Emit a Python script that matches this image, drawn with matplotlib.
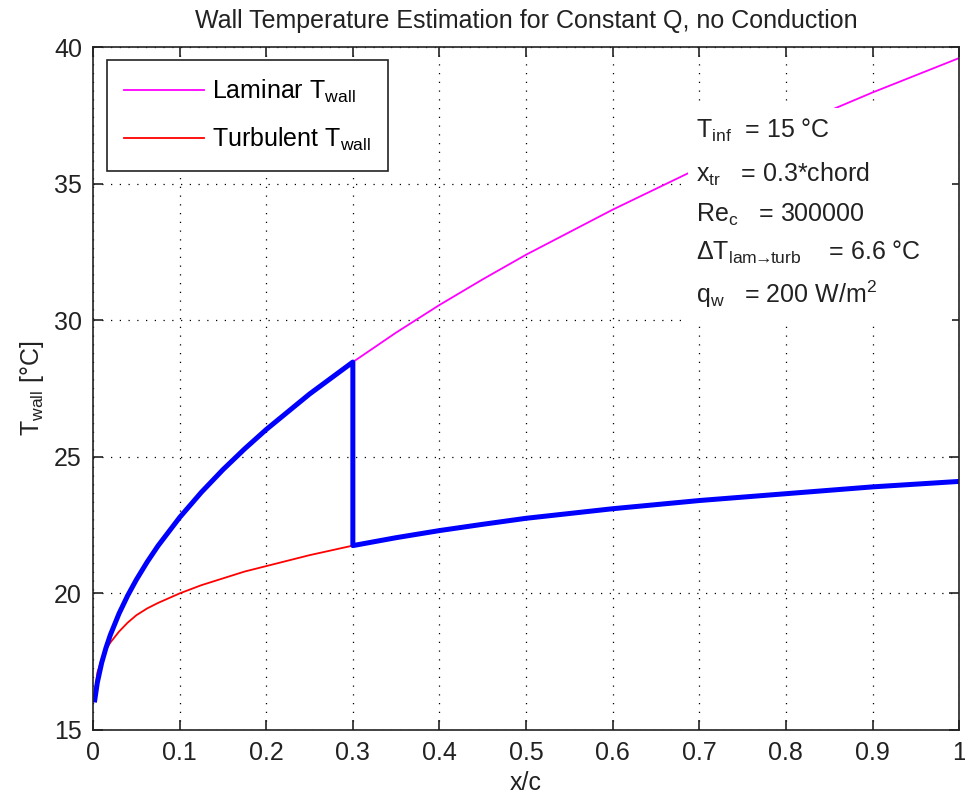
import matplotlib
matplotlib.use('Agg')
import matplotlib.pyplot as plt
from matplotlib.patches import Rectangle
import numpy as np

plt.rcParams['font.family'] = ['Liberation Sans', 'DejaVu Sans']
plt.rcParams['mathtext.fontset'] = 'custom'
plt.rcParams['mathtext.rm'] = 'Liberation Sans'
plt.rcParams['mathtext.it'] = 'Liberation Sans'
plt.rcParams['mathtext.default'] = 'regular'

# values
x_lam = [0.002, 0.005, 0.01, 0.015, 0.02, 0.03, 0.04, 0.05, 0.0625, 0.075, 0.1, 0.125,
         0.15, 0.175, 0.2, 0.25, 0.3, 0.35, 0.4, 0.45, 0.5, 0.6, 0.7, 0.8, 0.9, 1.0]
t_lam = [16.1, 16.74, 17.46, 18.01, 18.48, 19.26, 19.92, 20.5, 21.15, 21.74, 22.78, 23.7,
         24.53, 25.29, 26.0, 27.3, 28.47, 29.55, 30.56, 31.5, 32.4, 34.05, 35.58, 37.0,
         38.34, 39.6]
x_turb = [0.002, 0.005, 0.01, 0.015, 0.02, 0.03, 0.04, 0.05, 0.0625, 0.075, 0.1, 0.125,
          0.15, 0.175, 0.2, 0.25, 0.3, 0.35, 0.4, 0.45, 0.5, 0.6, 0.7, 0.8, 0.9, 1.0]
t_turb = [16.35, 17.1, 17.6, 17.95, 18.2, 18.6, 18.93, 19.2, 19.45, 19.65, 20.0, 20.3,
          20.55, 20.8, 21.0, 21.4, 21.75, 22.04, 22.3, 22.53, 22.75, 23.1, 23.4, 23.65,
          23.9, 24.1]
x_tr = 0.3

info_lines = [
    r'T$_{inf}$  = 15 °C',
    r'x$_{tr}$   = 0.3*chord',
    r'Re$_c$   = 300000',
    r'ΔT$_{lam\!\!\rightarrow\!\!turb}$    = 6.6 °C',
    r'q$_w$   = 200 W/m$^2$',
]

x_lam = np.array(x_lam)
t_lam = np.array(t_lam)
x_turb = np.array(x_turb)
t_turb = np.array(t_turb)

# combined wall temperature: laminar up to transition, then turbulent
x_comb = np.concatenate([x_lam[x_lam <= x_tr], x_turb[x_turb >= x_tr]])
t_comb = np.concatenate([t_lam[x_lam <= x_tr], t_turb[x_turb >= x_tr]])

fs = 18
fig = plt.figure(figsize=(9.65, 7.99), dpi=100)
ax = fig.add_axes([0.0964, 0.0864, 0.8975, 0.8546])

ax.plot(x_lam, t_lam, color='#ff00ff', lw=1.3, label=r'Laminar T$_{wall}$', zorder=2)
ax.plot(x_turb, t_turb, color='#ff0000', lw=1.3, label=r'Turbulent T$_{wall}$', zorder=2)
ax.plot(x_comb, t_comb, color='#0000ff', lw=3.6, zorder=3)

ax.set_xlim(0, 1)
ax.set_ylim(15, 40)
ax.set_xticks(np.arange(0, 1.01, 0.1))
ax.set_xticklabels(['0', '0.1', '0.2', '0.3', '0.4', '0.5', '0.6', '0.7', '0.8', '0.9', '1'])
ax.set_yticks([15, 20, 25, 30, 35, 40])

ax.grid(True, color='black', linestyle=(0, (1, 6)), lw=0.9)
ax.set_axisbelow(True)
ax.tick_params(direction='in', length=7, width=1.2, top=True, right=True,
               labelsize=fs, colors='#222222', pad=8)
for s in ax.spines.values():
    s.set_linewidth(1.2)
    s.set_color('#222222')
    s.set_zorder(6)

# white background of the annotation block
ax.add_patch(Rectangle((0.687, 0.597), 0.305, 0.314, transform=ax.transAxes,
                       facecolor='white', edgecolor='none', zorder=4))
baselines = [0.867, 0.803, 0.744, 0.688, 0.625]
for txt, yb in zip(info_lines, baselines):
    ax.text(0.696, yb, txt, transform=ax.transAxes, fontsize=fs, va='baseline',
            ha='left', color='#222222', zorder=5)

ax.set_title('Wall Temperature Estimation for Constant Q, no Conduction',
             fontsize=fs, color='#222222', pad=14)
ax.set_xlabel('x/c', fontsize=fs, color='#222222', labelpad=4)
ax.set_ylabel(r'T$_{wall}$ [°C]', fontsize=fs, color='#222222', labelpad=6)

leg = ax.legend(loc='upper left', bbox_to_anchor=(0.016, 0.981), borderaxespad=0,
                fontsize=fs, fancybox=False, framealpha=1, edgecolor='#222222',
                handlelength=3.2, handletextpad=0.3, labelspacing=0.85, borderpad=0.7)
leg.get_frame().set_linewidth(1.2)
leg.set_zorder(7)

fig.savefig('out.png', dpi=100)
